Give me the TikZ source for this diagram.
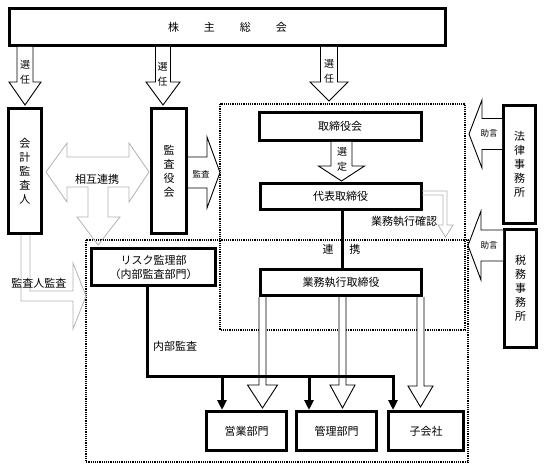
\documentclass[tikz,border=0pt]{standalone}
\usepackage{fontspec}
\setmainfont{Noto Sans CJK JP}
\usetikzlibrary{arrows.meta}

% white block arrows: centre, start, tip, shaft half, head half, head length
\newcommand{\vblock}[6]{\draw[whitearr] ({#1-#4},#2) -- ({#1-#4},{#3-(#6)}) -- ({#1-#5},{#3-(#6)}) -- (#1,#3) -- ({#1+#5},{#3-(#6)}) -- ({#1+#4},{#3-(#6)}) -- ({#1+#4},#2);}
\newcommand{\hblock}[6]{\draw[whitearr] (#2,{#1-#4}) -- ({#3-(#6)},{#1-#4}) -- ({#3-(#6)},{#1-#5}) -- (#3,#1) -- ({#3-(#6)},{#1+#5}) -- ({#3-(#6)},{#1+#4}) -- (#2,{#1+#4});}

\begin{document}
\begin{tikzpicture}[x=1pt,y=-1pt,
  orgbox/.style={draw,line width=3pt,fill=white,inner sep=0pt,align=center,font=\fontsize{11}{14}\selectfont},
  dotframe/.style={densely dotted,line width=1.2pt},
  whitearr/.style={draw,fill=white,line width=0.9pt},
  grayarr/.style={draw=black!30,line width=0.8pt},
  feed/.style={line width=3pt},
  feedtip/.style={-{Triangle[length=10pt,width=9pt]}},
  armlbl/.style={inner sep=0pt,align=center,font=\fontsize{10}{15}\selectfont},
  smalllbl/.style={inner sep=0pt,font=\fontsize{8.5}{10}\selectfont},
  textlbl/.style={inner sep=0pt,font=\fontsize{11}{13}\selectfont}]
\useasboundingbox (0,0) rectangle (544,468);

\draw[dotframe] (220,104) rectangle (465,330);
\draw[dotframe] (86,240) rectangle (468,462);

\node[orgbox,minimum width=436pt,minimum height=37pt] (gm) at (227.5,27) {株\hspace{25pt}主\hspace{25pt}総\hspace{25pt}会};
\node[orgbox,minimum width=33pt,minimum height=125pt] (cpa) at (25,171) {会\\計\\監\\査\\人};
\node[orgbox,minimum width=35pt,minimum height=125pt] (aud) at (169,171) {監\\査\\役\\会};
\node[orgbox,minimum width=162pt,minimum height=28pt] (board) at (340,126.5) {取締役会};
\node[orgbox,minimum width=161pt,minimum height=26pt] (rep) at (340.5,196.5) {代表取締役};
\node[orgbox,minimum width=161pt,minimum height=26pt] (exec) at (341,282.5) {業務執行取締役};
\node[orgbox,minimum width=124pt,minimum height=37pt] (risk) at (153.5,267) {リスク監理部\\（内部監査部門）};
\node[orgbox,minimum width=80pt,minimum height=39pt] (sales) at (246.5,431) {営業部門};
\node[orgbox,minimum width=80pt,minimum height=39pt] (admin) at (336.5,431) {管理部門};
\node[orgbox,minimum width=75pt,minimum height=39pt] (sub) at (426,431) {子会社};
\node[orgbox,minimum width=32pt,minimum height=118pt] (law) at (519.5,164.5) {法\\律\\事\\務\\所};
\node[orgbox,minimum width=32pt,minimum height=118pt] (tax) at (520.5,288.5) {税\\務\\事\\務\\所};

% block arrows
\vblock{25}{47}{105}{8}{16}{23}
\vblock{163}{47}{105}{7.5}{17}{23}
\vblock{329}{47}{101}{8.5}{19}{19}
\vblock{341.5}{142}{181}{10.5}{23}{15}
\hblock{172.5}{188}{220}{15.5}{35.5}{13}
\hblock{134}{502}{469}{15.5}{34}{-13}
\hblock{245.5}{503}{468}{15.5}{34.5}{-13}
\vblock{262.5}{297}{408}{3.5}{15}{23}
\vblock{342.5}{297}{408}{3.5}{12.5}{23}
\vblock{420.5}{297}{407}{3.5}{12.5}{21}

% gray arrows
\draw[grayarr] (46,172) -- (67,143) -- (67,157) -- (129,157) -- (129,143) -- (149,172) -- (129,202) -- (129,187) -- (108,187) -- (108,217) -- (120,217) -- (98,245) -- (77,217) -- (88,217) -- (88,187) -- (67,187) -- (67,202) -- cycle;
\draw[grayarr] (21,235) -- (21,301) -- (73,301) -- (73,329) -- (86,296) -- (73,263) -- (73,291) -- (30,291) -- (30,235);
\draw[grayarr] (422,191) -- (447,191) -- (447,225) -- (453,225) -- (445.5,237) -- (438,225) -- (443,225) -- (443,195) -- (422,195);

% lines
\draw[feed] ([xshift=1.5pt]rep.south) -- ([xshift=1.5pt]rep.south |- exec.north);
\coordinate (bus) at (147,376);
\draw[feed,feedtip] ([xshift=-6.5pt]risk.south) |- ([xshift=-33pt]sub.north |- bus) -- ([xshift=-33pt]sub.north);
\draw[feed,feedtip] ([xshift=-24.5pt]sales.north |- bus) -- ([xshift=-24.5pt]sales.north);
\draw[feed,feedtip] ([xshift=-27.5pt]admin.north |- bus) -- ([xshift=-27.5pt]admin.north);

% labels
\node[armlbl] (s1) at (25,72.5) {選\\任};
\node[armlbl] (s2) at (162.5,74) {選\\任};
\node[armlbl] (s3) at (329,71) {選\\任};
\node[armlbl] (sd) at (342,159.5) {選\\定};
\node[smalllbl] (kansa) at (201,174) {監査};
\node[smalllbl] (adv1) at (489,133) {助言};
\node[smalllbl] (adv2) at (489,245) {助言};
\node[textlbl] (mutual) at (97,179) {相互連携};
\node[textlbl] (cpaaudit) at (39,283) {監査人監査};
\node[textlbl] (confirm) at (404,221) {業務執行確認};
\node[textlbl] (internal) at (175,346) {内部監査};
\node[textlbl] (coop) at (341.5,249) {連\hspace{16pt}携};
\end{tikzpicture}
\end{document}
